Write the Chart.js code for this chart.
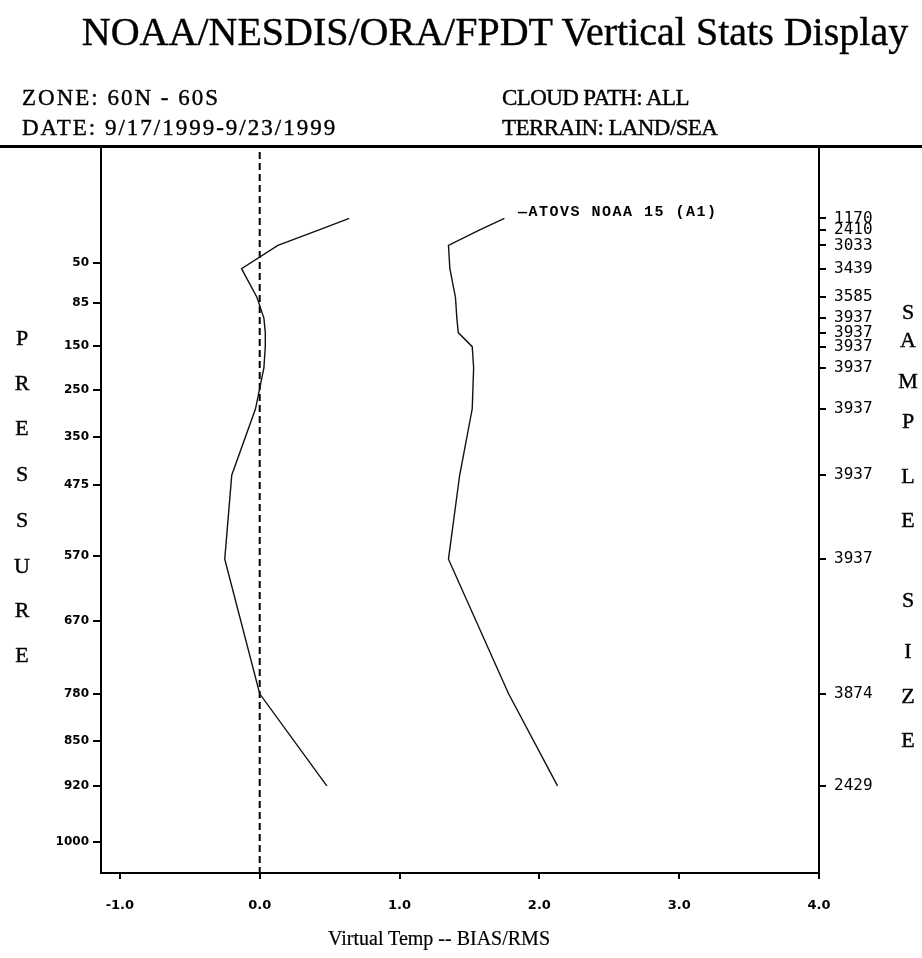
<!DOCTYPE html>
<html>
<head>
<meta charset="utf-8">
<script src="https://cdn.jsdelivr.net/npm/chart.js@4.4.0/dist/chart.umd.min.js"></script>
<style>
  body { margin: 0; background: #fff; }
  #wrap { position: relative; width: 922px; height: 958px; overflow: hidden; }
  canvas { position: absolute; left: 0; top: 0; }
  .t { position: absolute; font-family: "Liberation Serif", serif; color: #000; white-space: nowrap; -webkit-text-stroke: 0.4px #000; }
  .hl { font-size: 23px; letter-spacing: 2px; }
  .hr { font-size: 23px; letter-spacing: -0.6px; }
  .rule { position: absolute; left: 0; top: 145px; width: 922px; height: 3px; background: #000; }
  .letters span { position: absolute; width: 30px; text-align: center; font-size: 22px; }
</style>
</head>
<body>
<div id="wrap">
  <canvas id="myChart" width="922" height="958"></canvas>
  <div class="t" style="left:0;width:990px;top:8px;font-size:40px;text-align:center;">NOAA/NESDIS/ORA/FPDT Vertical Stats Display</div>
  <div class="t hl" style="left:22px;top:85px;">ZONE: 60N - 60S</div>
  <div class="t hr" style="left:502px;top:85px;">CLOUD PATH: ALL</div>
  <div class="t hl" style="left:22px;top:115px;">DATE: 9/17/1999-9/23/1999</div>
  <div class="t hr" style="left:502px;top:115px;">TERRAIN: LAND/SEA</div>
  <div class="rule"></div>
  <div class="t" style="left:518px;top:204px;font-family:'Liberation Mono',monospace;font-size:15px;font-weight:bold;letter-spacing:1.5px;-webkit-text-stroke:0;">&mdash;ATOVS NOAA 15 (A1)</div>
  <div class="t" style="left:0;width:878px;top:927px;font-size:20px;text-align:center;-webkit-text-stroke:0.2px #000;">Virtual Temp -- BIAS/RMS</div>
  <div class="t letters" id="leftTitle"></div>
  <div class="t letters" id="rightTitle"></div>
</div>
<script>
// pressure levels labelled on the left axis (hPa)
const pressureTicks = [50, 85, 150, 250, 350, 475, 570, 670, 780, 850, 920, 1000];
// levels the statistics were computed at (hPa), top to bottom
const statLevels = [12, 22, 35, 55, 80, 108, 130, 152, 200, 290, 450, 575, 780, 920];
const sampleSize = [1170, 2410, 3033, 3439, 3585, 3937, 3937, 3937, 3937, 3937, 3937, 3937, 3874, 2429];
const bias = [0.64, 0.42, 0.13, -0.13, -0.02, 0.03, 0.04, 0.04, 0.03, -0.03, -0.20, -0.25, 0.00, 0.48];
const rms = [1.75, 1.57, 1.35, 1.36, 1.40, 1.41, 1.42, 1.52, 1.53, 1.52, 1.43, 1.35, 1.78, 2.13];
const xTicks = [-1, 0, 1, 2, 3, 4];
const biasReference = 0;
const seriesName = 'ATOVS NOAA 15 (A1)';

// the display stretches pressure unevenly: [hPa, height above 1000 hPa]
const axisStops = [[10, 108.1], [50, 100], [85, 93.1], [150, 85.7], [250, 78.1], [350, 69.9],
  [475, 61.7], [570, 49.4], [670, 38.2], [780, 25.6], [850, 17.4], [920, 9.7], [1000, 0]];

function levelHeight(p) {
  let i = 1;
  while (i < axisStops.length - 1 && p > axisStops[i][0]) i++;
  const [p0, h0] = axisStops[i - 1];
  const [p1, h1] = axisStops[i];
  return h0 + (p - p0) * (h1 - h0) / (p1 - p0);
}

class PressureScale extends Chart.LinearScale {
  getPixelForValue(value) {
    return super.getPixelForValue(levelHeight(value));
  }
}
PressureScale.id = 'pressure';
PressureScale.defaults = Chart.LinearScale.defaults;
Chart.register(PressureScale);

// side titles, one letter per line
function stackLetters(id, word, left, tops) {
  const box = document.getElementById(id);
  word.split('').forEach((ch, i) => {
    const s = document.createElement('span');
    s.textContent = ch;
    s.style.left = left + 'px';
    s.style.top = tops[i] + 'px';
    box.appendChild(s);
  });
}
stackLetters('leftTitle', 'PRESSURE', 7, [325, 370, 415, 461, 507, 553, 597, 642]);
stackLetters('rightTitle', 'SAMPLESIZE', 893, [299, 327, 368, 408, 463, 507, 587, 638, 683, 727]);

const zeroLine = {
  id: 'zeroLine',
  beforeDatasetsDraw(chart) {
    const { ctx, chartArea, scales } = chart;
    const x = scales.x.getPixelForValue(biasReference);
    ctx.save();
    ctx.setLineDash([7, 4]);
    ctx.lineWidth = 2;
    ctx.strokeStyle = '#000';
    ctx.beginPath();
    ctx.moveTo(x, chartArea.top + 4);
    ctx.lineTo(x, chartArea.bottom);
    ctx.stroke();
    ctx.restore();
  }
};

const lineStyle = { showLine: true, borderColor: '#111', borderWidth: 1.4, pointRadius: 0, tension: 0, fill: false };
const tickFont = { family: 'DejaVu Sans', size: 12, weight: 'bold' };
const edge = { display: true, color: '#000', width: 2 };
const marks = { drawOnChartArea: false, drawTicks: true, color: '#000', lineWidth: 2 };

new Chart(document.getElementById('myChart'), {
  type: 'scatter',
  data: {
    datasets: [
      { label: seriesName + ' bias', data: statLevels.map((p, i) => ({ x: bias[i], y: p })), ...lineStyle },
      { label: seriesName + ' rms', data: statLevels.map((p, i) => ({ x: rms[i], y: p })), ...lineStyle }
    ]
  },
  options: {
    responsive: false,
    animation: false,
    layout: { padding: { top: 148 } },
    plugins: { legend: { display: false }, tooltip: { enabled: false } },
    scales: {
      x: {
        type: 'linear', position: 'bottom', min: -1.135, max: 4,
        afterBuildTicks: (s) => { s.ticks = xTicks.map((v) => ({ value: v })); },
        afterFit: (s) => { s.height = 85; },
        border: edge,
        grid: { ...marks, tickLength: 6 },
        ticks: { color: '#000', font: { ...tickFont, size: 13 }, padding: 19, maxRotation: 0, autoSkip: false,
          callback: (v) => v.toFixed(1) }
      },
      y: {
        type: 'pressure', position: 'left', min: -5.35, max: 119.86, bounds: 'data',
        afterBuildTicks: (s) => { s.ticks = pressureTicks.map((v) => ({ value: v })); },
        afterFit: (s) => { s.width = 101; },
        border: edge,
        grid: { ...marks, tickLength: 8 },
        ticks: { color: '#000', font: tickFont, padding: 4, autoSkip: false, callback: (v) => String(v) }
      },
      y2: {
        type: 'pressure', position: 'right', min: -5.35, max: 119.86, bounds: 'data',
        afterBuildTicks: (s) => { s.ticks = statLevels.map((v) => ({ value: v })); },
        afterFit: (s) => { s.width = 103; },
        border: edge,
        grid: { ...marks, tickLength: 7 },
        ticks: { color: '#000', font: { family: 'DejaVu Sans Mono', size: 16 }, padding: 8, autoSkip: false,
          callback: (v, i) => String(sampleSize[i]) }
      }
    }
  },
  plugins: [zeroLine]
});
</script>
</body>
</html>
